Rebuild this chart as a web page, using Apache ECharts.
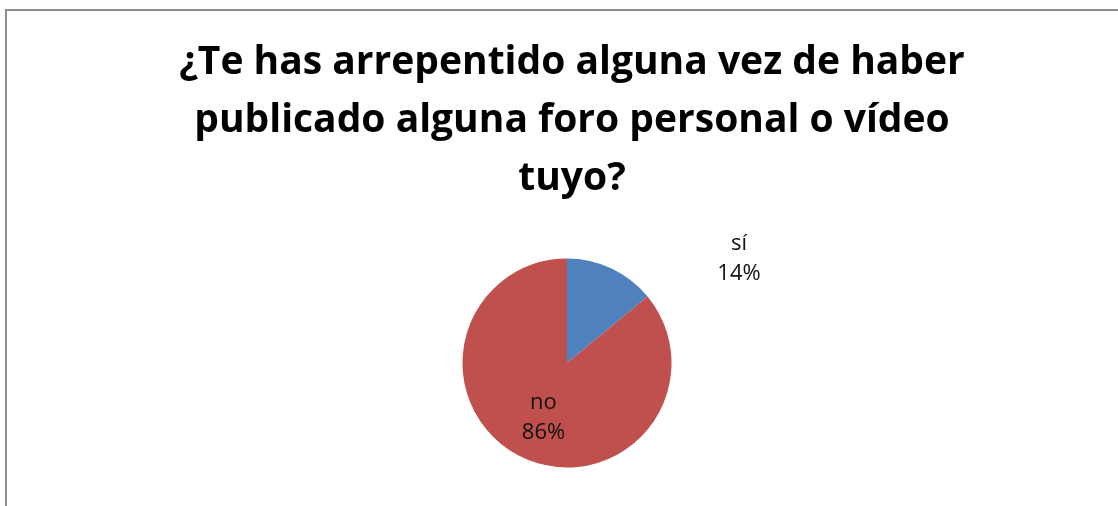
<!DOCTYPE html>
<html>
<head>
<meta charset="utf-8">
<script src="https://cdn.jsdelivr.net/npm/echarts@6/dist/echarts.min.js"></script>
<style>
	html, body { margin: 0; padding: 0; background: #fff; overflow: hidden; }
	#frame { position: absolute; left: 5px; top: 9px; width: 1200px; height: 600px; border: 2px solid #8e8e8e; box-sizing: border-box; }
	#chart { position: absolute; left: 0; top: 0; width: 1118px; height: 506px; }
</style>
</head>
<body>
<div id="frame"></div>
<div id="chart"></div>
<script>
var titleText = '¿Te has arrepentido alguna vez de haber\npublicado alguna foro personal o vídeo\ntuyo?';
var categories = ['sí', 'no'];
var values = [14, 86];
var colors = ['#4F81BD', '#C0504D'];

var myChart = echarts.init(document.getElementById('chart'));

var pieData = [];
for (var i = 0; i < categories.length; i++) {
	pieData.push({ name: categories[i], value: values[i] });
}
// sí se coloca fuera del sector, como en Excel
pieData[0].label = { position: 'outside' };

var option = {
	color: colors,
	animation: false,
	title: {
		text: titleText,
		left: 567,
		top: 29,
		textAlign: 'center',
		textStyle: {
			fontFamily: 'Open Sans',
			fontWeight: 'bold',
			fontSize: 39,
			lineHeight: 58,
			color: '#000'
		}
	},
	series: [{
		name: 'respuesta',
		type: 'pie',
		radius: 104.5,
		center: [567, 363],
		startAngle: 90,
		clockwise: true,
		data: pieData,
		itemStyle: { borderWidth: 0 },
		label: {
			show: true,
			position: 'inside',
			formatter: '{b}\n{d}%',
			fontFamily: 'Open Sans',
			fontSize: 22,
			lineHeight: 30,
			color: '#111',
			align: 'center'
		},
		labelLine: { show: false },
		labelLayout: function (params) {
			if (params.dataIndex === 0) {
				return { x: 739, y: 259, align: 'center', verticalAlign: 'middle' };
			}
			return { dy: 5 };
		}
	}]
};
myChart.setOption(option);
</script>
</body>
</html>
